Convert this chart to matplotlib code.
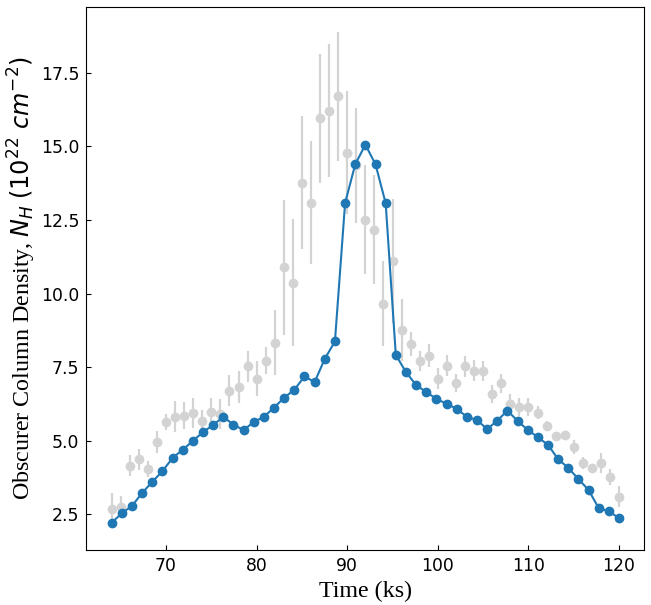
import numpy as np
import matplotlib
matplotlib.use("Agg")
import matplotlib.pyplot as plt

# %%
# Observed N_H per 1 ks bin (grey points with errors)
obs_time = [64, 65, 66, 67, 68, 69, 70, 71, 72, 73, 74, 75, 76, 77, 78, 79, 80,
            81, 82, 83, 84, 85, 86, 87, 88, 89, 90, 91, 92, 93, 94, 95, 96, 97,
            98, 99, 100, 101, 102, 103, 104, 105, 106, 107, 108, 109, 110, 111,
            112, 113, 114, 115, 116, 117, 118, 119, 120]
obs_nh = [2.67, 2.75, 4.14, 4.37, 4.03, 4.96, 5.63, 5.81, 5.84, 5.94, 5.68, 5.97,
          5.90, 6.70, 6.83, 7.52, 7.11, 7.72, 8.33, 10.89, 10.37, 13.77, 13.09,
          15.95, 16.22, 16.70, 14.79, 14.36, 12.51, 12.17, 9.65, 11.11, 8.76,
          8.29, 7.71, 7.89, 7.10, 7.55, 6.96, 7.52, 7.38, 7.38, 6.59, 6.95,
          6.25, 6.15, 6.15, 5.95, 5.51, 5.17, 5.19, 4.79, 4.24, 4.07, 4.24,
          3.77, 3.09]
obs_err = [0.55, 0.37, 0.36, 0.36, 0.28, 0.37, 0.27, 0.53, 0.46, 0.51, 0.35, 0.48,
           0.52, 0.52, 0.54, 0.52, 0.59, 0.47, 1.10, 2.29, 2.15, 2.26, 2.10,
           2.20, 2.25, 2.20, 2.10, 1.95, 1.85, 1.85, 1.45, 2.10, 1.07,
           0.40, 0.35, 0.38, 0.36, 0.37, 0.31, 0.37, 0.35, 0.34, 0.31, 0.33,
           0.33, 0.30, 0.30, 0.22, 0.15, 0.12, 0.15, 0.23, 0.20, 0.14, 0.34,
           0.28, 0.35]

# %%
# Model curve (blue)
model_time = [64.00, 65.12, 66.24, 67.36, 68.48, 69.60, 70.72, 71.84, 72.96, 74.08,
              75.20, 76.32, 77.44, 78.56, 79.68, 80.80, 81.92, 83.04, 84.16, 85.28,
              86.40, 87.52, 88.64, 89.76, 90.88, 92.00, 93.12, 94.24, 95.36, 96.48,
              97.60, 98.72, 99.84, 100.96, 102.08, 103.20, 104.32, 105.44, 106.56,
              107.68, 108.80, 109.92, 111.04, 112.16, 113.28, 114.40, 115.52,
              116.64, 117.76, 118.88, 120.00]
model_nh = [2.21, 2.53, 2.78, 3.22, 3.60, 3.96, 4.41, 4.69, 4.99, 5.29,
            5.53, 5.81, 5.54, 5.36, 5.63, 5.81, 6.12, 6.46, 6.73, 7.18,
            6.99, 7.78, 8.37, 13.07, 14.39, 15.06, 14.39, 13.07, 7.91, 7.33,
            6.89, 6.65, 6.42, 6.25, 6.08, 5.81, 5.70, 5.39, 5.68,
            6.02, 5.67, 5.36, 5.12, 4.85, 4.37, 4.07, 3.69,
            3.32, 2.70, 2.60, 2.36]

# %%
fig = plt.figure(figsize=(6.51, 6.05), dpi=100)
ax = fig.add_axes([0.1326, 0.0909, 0.8573, 0.8975])

ax.errorbar(obs_time, obs_nh, yerr=obs_err, fmt="o", color="lightgray",
            ecolor="lightgray", elinewidth=1.6, markersize=6, zorder=1)
ax.plot(model_time, model_nh, "-o", color="#1f77b4", linewidth=1.5,
        markersize=6, zorder=2)

ax.set_xlabel("Time (ks)", fontsize=17.3, family="Liberation Serif")
ax.set_ylabel(r"Obscurer Column Density, $N_H$ $(10^{22}\ cm^{-2})$",
              fontsize=17.3, family="Liberation Serif", labelpad=2)

ax.tick_params(direction="in", labelsize=12.4, pad=5)
ax.set_xticks([70, 80, 90, 100, 110, 120])
ax.set_yticks([2.5, 5.0, 7.5, 10.0, 12.5, 15.0, 17.5])

fig.savefig("out.png", dpi=100)
